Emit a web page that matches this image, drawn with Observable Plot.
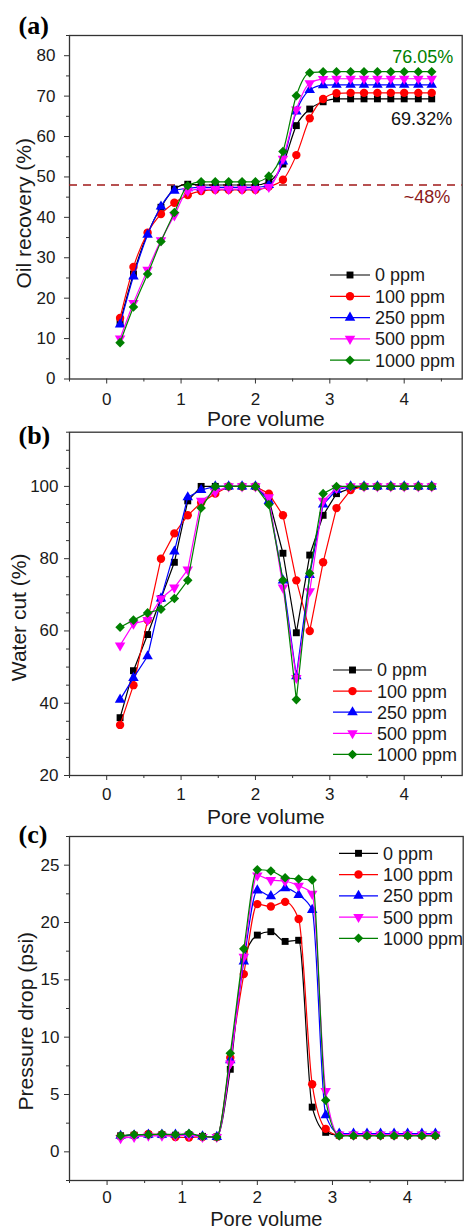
<!DOCTYPE html>
<html><head><meta charset="utf-8">
<script src="https://cdn.jsdelivr.net/npm/d3@7"></script>
<script src="https://cdn.jsdelivr.net/npm/@observablehq/plot@0.6"></script>
<style>
body{margin:0;background:#fff;}
#chart{position:relative;width:464px;height:1228px;font-family:"Liberation Sans",Arial,sans-serif;}
#chart svg{position:absolute;left:0;overflow:visible;}
</style></head><body><div id="chart"></div>
<script>
// ---------- data ----------
const seriesNames = ["0 ppm", "100 ppm", "250 ppm", "500 ppm", "1000 ppm"];
const seriesColors = ["#000000", "#ff0000", "#0000ff", "#ff00ff", "#008000"];
const poreVolume = [0.18,0.36,0.55,0.73,0.91,1.09,1.27,1.46,1.64,1.82,2.00,2.18,2.37,2.55,2.73,2.91,3.09,3.28,3.46,3.64,3.82,4.00,4.19,4.37];

const oil0    = [14.0,26.0,36.0,42.5,47.0,48.2,48.0,48.0,48.0,48.0,48.0,48.8,53.2,62.7,66.8,68.6,69.32,69.32,69.32,69.32,69.32,69.32,69.32,69.32];
const oil100  = [15.1,27.7,36.2,40.8,43.6,45.5,46.5,46.8,46.8,46.8,46.8,47.6,49.3,55.4,64.5,69.3,70.7,70.8,70.8,70.8,70.8,70.8,70.8,70.8];
const oil250  = [13.5,25.4,35.7,42.7,46.6,47.2,47.4,47.4,47.4,47.4,47.4,48.0,53.8,66.2,71.5,72.7,72.8,72.8,72.8,72.8,72.8,72.8,72.8,72.8];
const oil500  = [10.0,18.8,27.0,34.3,40.5,46.5,47.0,47.0,47.0,47.0,47.0,47.5,54.5,66.7,73.2,74.2,74.3,74.3,74.3,74.3,74.3,74.3,74.3,74.3];
const oil1000 = [9.0,17.8,26.0,34.0,41.2,47.8,48.8,48.8,48.8,48.8,48.8,50.2,56.3,70.1,75.8,76.0,76.05,76.05,76.05,76.05,76.05,76.05,76.05,76.05];

const wc0    = [36,49,59,69,79,96,100,100,100,100,100,96.5,81.5,59.5,81,92,98,99.5,100,100,100,100,100,100];
const wc100  = [34,45,63,80,87,92,95.5,98,100,100,100,98,92,74,60,79,94,99,100,100,100,100,100,100];
const wc250  = [41,47,53,69,82,97,99,100,100,100,100,96,74,47.5,75.5,95,99,100,100,100,100,100,100,100];
const wc500  = [56,62,63,69,72,77,96,98.5,100,100,100,97,72,47,71,96,99.5,100,100,100,100,100,100,100];
const wc1000 = [61,63,65,66,69,74,94,100,100,100,100,95,74,41,76,98,100,100,100,100,100,100,100,100];

const pd0    = [1.4,1.45,1.5,1.5,1.45,1.5,1.35,1.3,7.2,16.8,18.9,19.2,18.35,18.45,3.9,1.7,1.45,1.45,1.45,1.45,1.45,1.45,1.45,1.45];
const pd100  = [1.35,1.45,1.55,1.5,1.3,1.25,1.3,1.3,8.2,15.5,21.6,21.4,21.8,20.3,5.9,2.0,1.45,1.45,1.45,1.45,1.45,1.45,1.45,1.45];
const pd250  = [1.4,1.45,1.5,1.5,1.5,1.5,1.35,1.3,8.0,16.6,22.8,22.3,23.0,22.4,21.1,3.2,1.6,1.6,1.6,1.6,1.6,1.6,1.6,1.6];
const pd500  = [1.2,1.3,1.4,1.4,1.4,1.45,1.3,1.3,7.7,17.0,24.1,23.7,23.6,23.2,22.5,5.3,1.5,1.5,1.5,1.5,1.5,1.5,1.5,1.5];
const pd1000 = [1.4,1.5,1.5,1.55,1.5,1.6,1.35,1.3,8.6,17.7,24.6,24.5,23.9,23.8,23.7,4.5,1.4,1.4,1.4,1.4,1.4,1.4,1.4,1.4];

const oilTicks = [0,10,20,30,40,50,60,70,80];
const oilMinor = [5,15,25,35,45,55,65,75,85];
const wcTicks = [20,40,60,80,100];
const wcMinor = [25,30,35,45,50,55,65,70,75,85,90,95,105,110,115];
const pdTicks = [0,5,10,15,20,25];
const pdMinor = [-2.5,2.5,7.5,12.5,17.5,22.5,27.5];
const pvTicks = [0,1,2,3,4];
const pvMinor = [-0.5,0.5,1.5,2.5,3.5,4.5];

const breakthroughLevel = [48];
const oilNotes = [
  {x: 4.66, y: 79.5, text: "76.05%", color: "#008000"},
  {x: 4.645, y: 64.3, text: "69.32%", color: "#111111"},
  {x: 4.62, y: 44.9, text: "~48%", color: "#8b1a1a"}
];

// ---------- symbols ----------
const triangleDown = {
  draw(ctx, size) {
    const y = Math.sqrt(size / (Math.sqrt(3) * 3));
    ctx.moveTo(0, 2 * y);
    ctx.lineTo(-Math.sqrt(3) * y, -y);
    ctx.lineTo(Math.sqrt(3) * y, -y);
    ctx.closePath();
  }
};
const seriesSymbols = [d3.symbolSquare, d3.symbolCircle, d3.symbolTriangle, triangleDown, d3.symbolDiamond2];
const seriesR = [3.9, 4.2, 3.9, 3.9, 4.3];

const FONT = "Liberation Sans, Arial, sans-serif";
const container = document.getElementById("chart");

function panel(cfg) {
  const marks = [Plot.frame({stroke: "#333", strokeWidth: 1.3})];
  if (cfg.extra) marks.push(...cfg.extra);
  cfg.series.forEach((vals, k) => {
    const data = poreVolume.map((x, i) => ({x, y: vals[i]}));
    marks.push(Plot.line(data, {x: "x", y: "y", stroke: seriesColors[k], strokeWidth: 1.2, curve: cfg.curve}));
    marks.push(Plot.dot(data, {x: "x", y: "y", fill: seriesColors[k], stroke: "none", symbol: seriesSymbols[k], r: seriesR[k]}));
  });
  if (cfg.notes) marks.push(...cfg.notes);
  marks.push(
    Plot.axisY(cfg.yTicks, {tickSize: 5, tickPadding: cfg.yPad, fontSize: 17, label: null, stroke: "#333", fill: "#1a1a1a"}),
    Plot.axisY(cfg.yMinor, {tickSize: 3, tickFormat: () => "", label: null, stroke: "#333"}),
    Plot.axisX(pvTicks, {tickSize: 5, tickPadding: cfg.xPad, fontSize: 17, label: null, stroke: "#333", fill: "#1a1a1a"}),
    Plot.axisX(pvMinor, {tickSize: 3, tickFormat: () => "", label: null, stroke: "#333"}),
    Plot.text(["Pore volume"], {text: d => d, frameAnchor: "bottom", dy: cfg.xLabelDy, textAnchor: "middle", lineAnchor: "middle", fontSize: cfg.xLabelSize, fill: "#1a1a1a"}),
    Plot.text([cfg.yLabel], {text: d => d, frameAnchor: "left", dx: cfg.yLabelDx, dy: cfg.yLabelDy, rotate: -90, textAnchor: "middle", lineAnchor: "middle", fontSize: 21, fill: "#1a1a1a"}),
    Plot.text([cfg.tag], {text: d => d, frameAnchor: "top-left", dx: -51, dy: cfg.tagDy, textAnchor: "start", lineAnchor: "middle", fontSize: 26, fontWeight: "bold", fontFamily: "Liberation Serif, Times New Roman, serif", fill: "#000"})
  );
  const svg = Plot.plot({
    width: 464, height: cfg.height,
    marginTop: cfg.mt, marginBottom: cfg.mb, marginLeft: 69, marginRight: cfg.mr,
    x: {domain: cfg.xDomain},
    y: {domain: cfg.yDomain},
    style: {fontFamily: FONT, background: "transparent", overflow: "visible"},
    marks
  });
  svg.style.top = cfg.top + "px";
  container.appendChild(svg);
}

panel({
  top: 0, height: 425, mt: 35, mb: 46.5, mr: 2.3,
  xDomain: [-0.5, 4.78], yDomain: [0, 85],
  yTicks: oilTicks, yMinor: oilMinor, yPad: 9, xPad: 9,
  series: [oil0, oil100, oil250, oil500, oil1000], curve: "monotone-x",
  yLabel: "Oil recovery (%)", yLabelDx: -45, yLabelDy: 6, xLabelDy: 40, xLabelSize: 21,
  tag: "(a)", tagDy: -10,
  extra: [Plot.ruleY(breakthroughLevel, {stroke: "#a01818", strokeWidth: 1.4, strokeDasharray: "8,6"})],
  notes: oilNotes.map(n => Plot.text([n], {x: "x", y: "y", text: "text", textAnchor: "end", fill: n.color, fontSize: 18}))
});

panel({
  top: 425, height: 400, mt: 6.7, mb: 50, mr: 2.3,
  xDomain: [-0.5, 4.78], yDomain: [20, 115],
  yTicks: wcTicks, yMinor: wcMinor, yPad: 6, xPad: 7,
  series: [wc0, wc100, wc250, wc500, wc1000], curve: "linear",
  yLabel: "Water cut (%)", yLabelDx: -50, yLabelDy: 13.5, xLabelDy: 41.6, xLabelSize: 21,
  tag: "(b)", tagDy: 3
});

panel({
  top: 825, height: 403, mt: 11, mb: 48, mr: 1.3,
  xDomain: [-0.5, 4.74], yDomain: [-2.5, 27.5],
  yTicks: pdTicks, yMinor: pdMinor, yPad: 5, xPad: 5,
  series: [pd0, pd100, pd250, pd500, pd1000], curve: "monotone-x",
  yLabel: "Pressure drop (psi)", yLabelDx: -43, yLabelDy: 12.7, xLabelDy: 39.1, xLabelSize: 20,
  tag: "(c)", tagDy: -2
});

// ---------- legends ----------
const legendLayouts = [
  {x0: 330, x1: 370, tx: 375, y0: 275, step: 21.3},
  {x0: 333, x1: 372, tx: 377, y0: 670, step: 21.1},
  {x0: 339, x1: 378, tx: 383, y0: 853.3, step: 21.25}
];
const lg = d3.select(container).append("svg")
  .attr("width", 464).attr("height", 1228)
  .style("top", "0px").style("pointer-events", "none")
  .attr("font-family", FONT);
legendLayouts.forEach(L => {
  seriesNames.forEach((name, k) => {
    const y = L.y0 + k * L.step;
    lg.append("line").attr("x1", L.x0).attr("x2", L.x1).attr("y1", y).attr("y2", y)
      .attr("stroke", seriesColors[k]).attr("stroke-width", 1.2);
    lg.append("path").attr("d", d3.symbol(seriesSymbols[k], Math.PI * seriesR[k] * seriesR[k])())
      .attr("transform", `translate(${(L.x0 + L.x1) / 2},${y})`).attr("fill", seriesColors[k]);
    lg.append("text").attr("x", L.tx).attr("y", y).attr("dy", "0.36em")
      .attr("font-size", 18).attr("fill", "#1a1a1a").text(name);
  });
});
</script></body></html>
